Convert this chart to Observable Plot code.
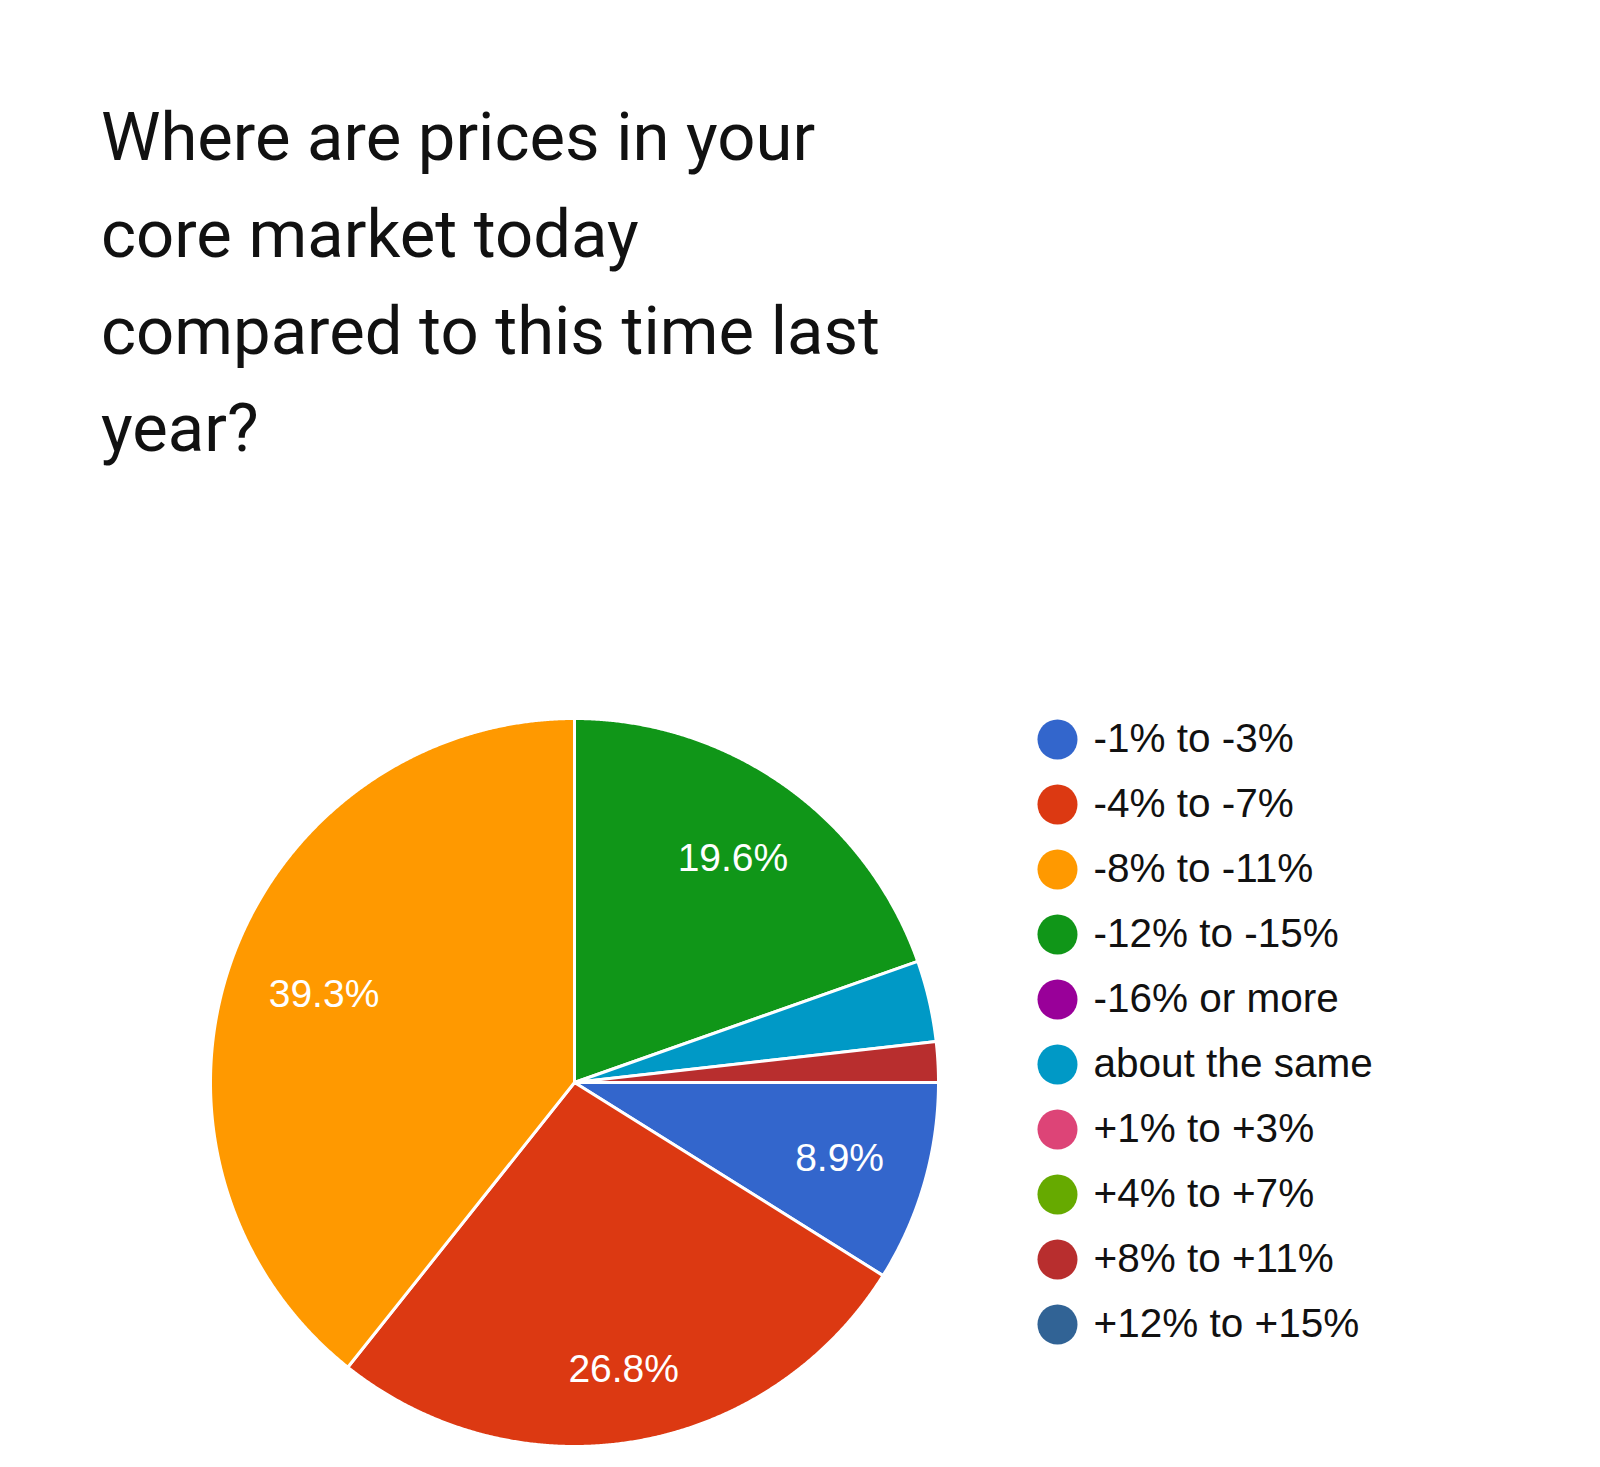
<!DOCTYPE html>
<html><head><meta charset="utf-8">
<script src="https://cdn.jsdelivr.net/npm/d3@7"></script>
<script src="https://cdn.jsdelivr.net/npm/@observablehq/plot@0.6"></script>
<style>
body{margin:0;background:#fff;}
#page{position:relative;width:1600px;height:1467px;overflow:hidden;background:#fff;}
#title{position:absolute;left:101px;top:89px;white-space:nowrap;font-family:Roboto,sans-serif;font-size:67px;line-height:97px;color:#111;}
#pie{position:absolute;left:190px;top:698px;}
#legend{position:absolute;left:1000px;top:692px;}
</style></head><body>
<div id="page">
<div id="title">Where are prices in your<br>core market today<br>compared to this time last<br>year?</div>
<div id="pie"></div>
<div id="legend"></div>
</div>
<script>
const categories = ["-1% to -3%", "-4% to -7%", "-8% to -11%", "-12% to -15%", "-16% or more", "about the same", "+1% to +3%", "+4% to +7%", "+8% to +11%", "+12% to +15%"];
const percents = [8.9, 26.8, 39.3, 19.6, 0, 3.6, 0, 0, 1.8, 0];
const colors = ["#3366cc", "#dc3912", "#ff9900", "#109618", "#990099", "#0099c6", "#dd4477", "#66aa00", "#b82e2e", "#316395"];

const FONT = "'Liberation Sans', Arial, sans-serif";
const R = 364;           // pie radius in px
const LABEL_SIZE = 39;

const rows = categories.map((c, i) => ({category: c, value: percents[i]}));
const arcs = d3.pie().value(d => d.value).sort(null)
  .startAngle(Math.PI / 2).endAngle(Math.PI / 2 + 2 * Math.PI)(rows)
  .filter(a => a.data.value > 0);

const pts = [];
for (const a of arcs) {
  const c = a.data.category;
  pts.push({category: c, x: 0, y: 0});
  const n = Math.max(2, Math.ceil((a.endAngle - a.startAngle) / 0.004));
  for (let k = 0; k <= n; k++) {
    const t = a.startAngle + (a.endAngle - a.startAngle) * k / n;
    pts.push({category: c, x: Math.sin(t), y: Math.cos(t)});
  }
  pts.push({category: c, x: 0, y: 0});
}

// label placement: box centred on the slice's mid angle, far corner at 0.89 R
const ctx = document.createElement("canvas").getContext("2d");
ctx.font = LABEL_SIZE + "px " + FONT;
const labels = arcs.filter(a => a.data.value >= 5).map(a => {
  const m = (a.startAngle + a.endAngle) / 2;
  const text = a.data.value.toFixed(1) + "%";
  const ux = Math.sin(m), uy = Math.cos(m);
  const w = ctx.measureText(text).width / R, h = LABEL_SIZE / R;
  const cx = Math.sign(ux) * w / 2, cy = Math.sign(uy) * h / 2;
  const uc = ux * cx + uy * cy, cc = cx * cx + cy * cy, K = 0.89;
  const d = -uc + Math.sqrt(uc * uc - cc + K * K);
  return {x: d * ux, y: d * uy, text};
});

const color = {domain: categories, range: colors};

const pie = Plot.plot({
  width: 2 * R + 40, height: 2 * R + 40,
  marginTop: 20, marginBottom: 20, marginLeft: 20, marginRight: 20,
  x: {domain: [-1, 1], axis: null},
  y: {domain: [-1, 1], axis: null},
  color,
  marks: [
    Plot.line(pts, {x: "x", y: "y", z: "category", fill: "category", stroke: "white", strokeWidth: 3, strokeLinejoin: "round"}),
    Plot.text(labels, {x: "x", y: "y", text: "text", fill: "white", fontSize: LABEL_SIZE, fontFamily: FONT})
  ]
});
document.getElementById("pie").append(pie);

const legend = Plot.plot({
  width: 440, height: 662,
  marginTop: 45, marginBottom: 28, marginLeft: 0, marginRight: 0,
  y: {type: "point", domain: categories, padding: 0, axis: null},
  color,
  marks: [
    Plot.dot(categories, {y: d => d, fill: d => d, r: 20, frameAnchor: "left", dx: 57}),
    Plot.text(categories, {y: d => d, text: d => d, frameAnchor: "left", dx: 93, textAnchor: "start", fontSize: 40.5, fill: "#111", fontFamily: FONT})
  ]
});
document.getElementById("legend").append(legend);
</script>
</body></html>
